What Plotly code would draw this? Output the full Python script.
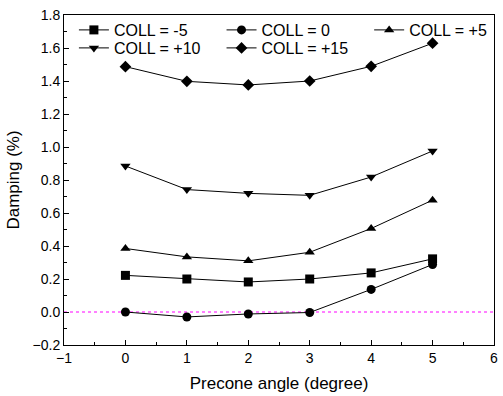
import plotly.graph_objects as go

precone = [0, 1, 2, 3, 4, 5]
coll_m5 = [0.222, 0.200, 0.182, 0.200, 0.237, 0.322]
coll_0 = [0.000, -0.030, -0.012, -0.003, 0.137, 0.288]
coll_p5 = [0.385, 0.334, 0.310, 0.362, 0.506, 0.678]
coll_p10 = [0.885, 0.742, 0.719, 0.707, 0.818, 0.976]
coll_p15 = [1.487, 1.398, 1.376, 1.400, 1.489, 1.629]

series_names = ["COLL = -5", "COLL = 0", "COLL = +5", "COLL = +10", "COLL = +15"]
series_values = [coll_m5, coll_0, coll_p5, coll_p10, coll_p15]
series_symbols = ["square", "circle", "triangle-up", "triangle-down", "diamond"]

FONT = "Arial, Liberation Sans, sans-serif"

# plot area in pixels (for legend placement)
PL, PT, PW, PH = 64, 15, 434, 330
# legend entry text-start positions (pixels) and row centres
leg_text_x = [115, 264, 413, 115, 264]
leg_row_y = [30, 30, 30, 48, 48]

fig = go.Figure()
layout_legends = {}
for i, (name, vals, sym) in enumerate(zip(series_names, series_values, series_symbols)):
    key = "legend" if i == 0 else f"legend{i + 1}"
    fig.add_trace(go.Scatter(
        x=precone, y=vals, name=name, mode="lines+markers",
        line=dict(color="black", width=1),
        marker=dict(symbol=sym, size=9, color="black"),
        legend=key,
    ))
    layout_legends[key] = dict(
        x=(leg_text_x[i] - 41 - PL) / PW,
        y=(PT + PH - leg_row_y[i]) / PH,
        xanchor="left", yanchor="middle",
        orientation="h",
        bgcolor="rgba(0,0,0,0)", borderwidth=0,
        font=dict(family=FONT, size=16, color="black"),
    )

fig.add_shape(type="line", xref="paper", yref="y", x0=0, x1=1, y0=0, y1=0,
              line=dict(color="#ff00ff", width=1, dash="dot"), layer="below")

axis_common = dict(
    showline=True, linecolor="black", linewidth=1, mirror=True,
    ticks="inside", ticklen=5, tickcolor="black", tickwidth=1,
    showgrid=False, zeroline=False,
    tickfont=dict(family=FONT, size=14, color="black"),
)

fig.update_xaxes(
    range=[-1, 6], dtick=1, tick0=-1,
    minor=dict(ticks="inside", ticklen=3, dtick=0.5, tickcolor="black", showgrid=False),
    title=dict(text="Precone angle (degree)", font=dict(family=FONT, size=17, color="black"), standoff=12),
    **axis_common,
)
fig.update_yaxes(
    range=[-0.2, 1.8], dtick=0.2, tick0=-0.2, tickformat=".1f",
    minor=dict(ticks="inside", ticklen=3, dtick=0.1, tickcolor="black", showgrid=False),
    title=dict(text="Damping (%)", font=dict(family=FONT, size=17, color="black"), standoff=8),
    **axis_common,
)

fig.update_layout(
    width=503, height=396,
    margin=dict(l=PL, r=503 - PL - PW, t=PT, b=396 - PT - PH),
    paper_bgcolor="white", plot_bgcolor="white",
    font=dict(family=FONT, color="black"),
    showlegend=True,
    **layout_legends,
)

fig.write_html("out.html")
